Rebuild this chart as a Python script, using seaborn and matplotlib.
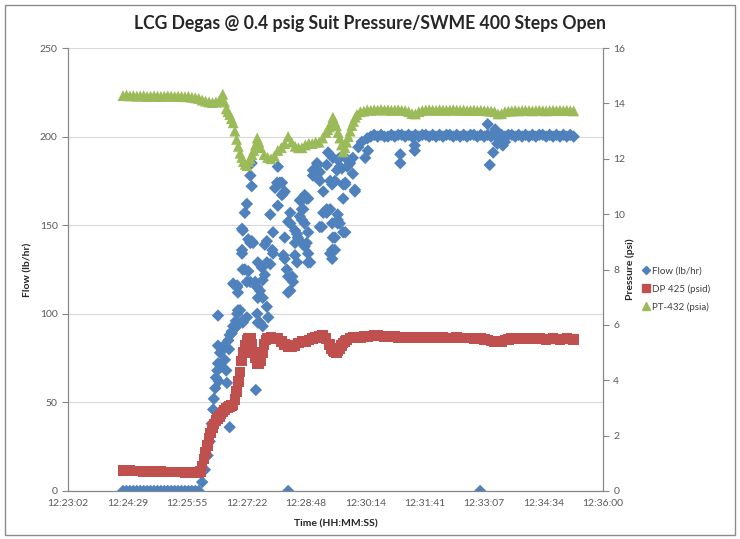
"""LCG degas run: flow and pressures vs time, Excel-style twin-axis scatter."""

import numpy as np
import pandas as pd
import matplotlib
matplotlib.use("Agg")
import matplotlib.pyplot as plt
from matplotlib.patches import Rectangle
from matplotlib.lines import Line2D
import seaborn as sns

# ---- data (time in seconds after 12:23:02) ----
time_labels = ["12:23:02", "12:24:29", "12:25:55", "12:27:22", "12:28:48",
               "12:30:14", "12:31:41", "12:33:07", "12:34:34", "12:36:00"]

# pressure channels sampled every 5 s from t=80 s
pressure_t = np.arange(80, 740, 5)

pt432 = [
    14.28, 14.30, 14.27, 14.28, 14.26, 14.27, 14.28, 14.25, 14.26, 14.27, 14.26, 14.25,
    14.26, 14.27, 14.26, 14.25, 14.26, 14.25, 14.24, 14.25, 14.22, 14.20, 14.18, 14.12,
    14.08, 14.05, 14.03, 14.05, 14.10, 14.33, 13.80, 13.60, 13.30, 12.70, 12.20, 11.90,
    11.75, 12.00, 12.30, 12.75, 12.40, 12.15, 12.05, 12.00, 12.10, 12.30, 12.40, 12.55,
    12.80, 12.60, 12.45, 12.40, 12.40, 12.50, 12.55, 12.55, 12.60, 12.60, 12.75, 12.95,
    13.15, 13.50, 13.20, 12.75, 12.25, 12.60, 13.00, 13.35, 13.60, 13.70, 13.72, 13.76,
    13.75, 13.77, 13.76, 13.78, 13.76, 13.77, 13.75, 13.76, 13.77, 13.75, 13.74, 13.70,
    13.63, 13.62, 13.70, 13.74, 13.76, 13.77, 13.76, 13.75, 13.77, 13.76, 13.75, 13.76,
    13.77, 13.76, 13.75, 13.76, 13.74, 13.75, 13.76, 13.74, 13.75, 13.74, 13.73, 13.72,
    13.70, 13.62, 13.63, 13.70, 13.72, 13.73, 13.74, 13.73, 13.74, 13.75, 13.74, 13.73,
    13.74, 13.75, 13.74, 13.73, 13.74, 13.75, 13.74, 13.75, 13.74, 13.75, 13.74, 13.73,
]
# extra readings where the pressure moves fast
pt432_fast_t = [222.5, 227.5, 232.5, 237.5, 242.5, 247.5, 252.5, 257.5, 262.5, 267.5,
                272.5, 277.5, 377.5, 382.5, 387.5, 392.5, 397.5, 402.5, 407.5, 412.5,
                417.5]
pt432_fast = [14.20, 14.05, 13.70, 13.45, 13.00, 12.45, 12.05, 11.80, 11.90, 12.15,
              12.50, 12.60, 13.05, 13.30, 13.35, 12.95, 12.50, 12.40, 12.80, 13.20,
              13.50]

dp425 = [
    0.74, 0.73, 0.73, 0.72, 0.72, 0.72, 0.71, 0.71, 0.71, 0.70, 0.70, 0.70,
    0.69, 0.69, 0.69, 0.68, 0.68, 0.68, 0.67, 0.67, 0.67, 0.66, 0.66, 0.90,
    1.40, 1.90, 2.30, 2.55, 2.70, 2.85, 3.00, 3.05, 3.10, 3.60, 4.30, 5.00,
    5.45, 5.50, 5.00, 4.60, 4.70, 5.30, 5.50, 5.55, 5.50, 5.50, 5.40, 5.30,
    5.20, 5.20, 5.25, 5.35, 5.40, 5.40, 5.45, 5.50, 5.55, 5.60, 5.62, 5.50,
    5.30, 5.05, 5.00, 5.15, 5.35, 5.45, 5.52, 5.55, 5.56, 5.55, 5.57, 5.58,
    5.60, 5.62, 5.61, 5.60, 5.58, 5.57, 5.56, 5.57, 5.55, 5.56, 5.55, 5.54,
    5.55, 5.56, 5.55, 5.54, 5.55, 5.54, 5.53, 5.54, 5.55, 5.54, 5.53, 5.52,
    5.53, 5.54, 5.53, 5.52, 5.53, 5.52, 5.51, 5.52, 5.50, 5.48, 5.45, 5.42,
    5.40, 5.38, 5.40, 5.45, 5.48, 5.50, 5.51, 5.50, 5.49, 5.50, 5.51, 5.50,
    5.49, 5.50, 5.49, 5.48, 5.49, 5.50, 5.49, 5.48, 5.49, 5.50, 5.49, 5.48,
]
dp425_fast_t = [192.5, 197.5, 202.5, 207.5, 212.5, 217.5, 222.5, 227.5, 232.5, 237.5,
                242.5, 247.5, 252.5, 257.5, 262.5, 267.5, 272.5, 277.5, 282.5, 287.5,
                382.5, 387.5, 392.5, 397.5, 402.5]
dp425_fast = [0.70, 1.15, 1.65, 2.10, 2.42, 2.62, 2.78, 2.92, 3.02, 3.08,
              3.30, 3.95, 4.70, 5.25, 5.50, 5.30, 4.80, 4.60, 5.00, 5.45,
              5.15, 5.02, 5.05, 5.25, 5.40]

# flow: zero run, rise, scatter, plateau and outliers
flow_t = [
    80, 85, 90, 95, 100, 105, 110, 115, 120, 125, 130, 135, 140, 145, 150, 155, 160,
    165, 170, 175, 180, 185, 190,
    195, 199, 203, 206, 209, 211, 212, 214, 215, 217, 218, 219, 221, 222, 224, 227,
    228, 230, 231, 233, 234, 235, 235, 238, 240, 243, 244, 246, 247, 250, 254, 273,
    218, 254, 257, 260, 253, 265, 269, 257, 262, 246, 247, 260, 272, 276, 282, 286,
    283, 294, 298, 289, 297, 294, 279, 276, 247, 260, 275, 289, 279, 283, 238, 218,
    224, 305, 323, 323, 315, 330, 334, 340, 330, 318, 326, 320, 313, 330, 344, 349,
    340, 340, 340, 267, 265, 267, 253, 305, 308, 304, 313, 320, 337, 347, 342, 337,
    344, 349, 333, 362, 356, 371, 381, 376, 369, 392, 392, 403, 388, 384, 384, 403,
    414, 417, 406, 432, 391, 376, 363, 395, 410, 436, 378, 385, 359, 366, 362, 366,
    384, 388, 400, 417, 400, 392, 398, 406, 414, 422, 427, 435, 344, 349, 376, 371,
    381, 366, 384, 395, 400, 385, 385, 349, 254, 311, 301, 311, 315, 347, 286, 298,
    289, 315, 333, 352, 356, 362, 395, 403, 392, 388, 381, 254, 276, 291, 283, 275,
    265, 246, 240, 253, 262, 267, 320, 327, 323,
    440, 445, 450, 455, 460, 465, 470, 475, 480, 485, 490, 495, 500, 505, 510, 515,
    520, 525, 530, 535, 540, 545, 550, 555, 560, 565, 570, 575, 580, 585, 590, 595,
    600, 605, 610, 615, 620, 625, 630, 635, 640, 645, 650, 655, 660, 665, 670, 675,
    680, 685, 690, 695, 700, 705, 710, 715, 720, 725, 730, 735,
    483, 483, 504, 504, 610, 621, 613, 618, 624, 628, 632, 635, 320, 599,
]
flow_v = [
    0, 0, 0, 0, 0, 0, 0, 0, 0, 0, 0, 0, 0, 0, 0, 0, 0,
    0, 0, 0, 0, 0, 0,
    5, 12, 20, 28, 38, 46, 52, 58, 64, 68, 72, 62, 78, 70, 80, 82,
    74, 68, 61, 85, 80, 88, 36, 90, 93, 92, 96, 100, 94, 102, 95, 57,
    99, 147, 157, 162, 134, 140, 140, 125, 124, 116, 112, 118, 118, 129, 126, 122,
    119, 156, 146, 141, 136, 128, 113, 109, 102, 98, 100, 104, 95, 93, 89, 82,
    81, 161, 157, 151, 143, 147, 143, 140, 140, 125, 121, 112, 133, 133, 138, 129,
    159, 153, 164, 185, 178, 172, 148, 183, 174, 174, 168, 152, 164, 165, 159, 155,
    151, 146, 145, 181, 178, 169, 175, 157, 149, 156, 151, 146, 143, 136, 131, 173,
    179, 169, 187, 188, 181, 184, 184, 188, 185, 192, 191, 188, 182, 180, 177, 175,
    173, 175, 173, 170, 165, 187, 182, 183, 188, 194, 197, 199, 167, 165, 159, 157,
    159, 149, 151, 151, 146, 143, 136, 134, 125, 167, 171, 174, 169, 140, 139, 134,
    129, 131, 129, 129, 181, 185, 183, 174, 153, 136, 134, 96, 95, 98, 109, 115,
    118, 115, 117, 136, 142, 141, 121, 118, 113,
    200, 201, 200, 201, 200, 200, 201, 200, 201, 201, 200, 201, 200, 201, 200, 201,
    201, 200, 201, 200, 201, 200, 201, 201, 200, 201, 200, 201, 200, 201, 201, 200,
    201, 200, 201, 200, 201, 200, 201, 200, 201, 201, 200, 201, 200, 201, 200, 201,
    200, 201, 201, 200, 201, 200, 201, 200, 201, 200, 201, 200,
    190, 185, 195, 192, 207, 204, 184, 191, 196, 198, 195, 197, 0, 0,
]

BLUE = "#4F81BD"
RED = "#C0504D"
GREEN = "#9BBB59"
GRID = "#D9D9D9"
AXIS = "#868686"
TICK = "#595959"

sns.set_style("white")
plt.rcParams["font.family"] = ["Lato", "DejaVu Sans"]

flow_df = pd.DataFrame({"t": flow_t, "flow": flow_v})
dp_df = pd.DataFrame({"t": list(pressure_t) + dp425_fast_t, "p": dp425 + dp425_fast})
pt_df = pd.DataFrame({"t": list(pressure_t) + pt432_fast_t, "p": pt432 + pt432_fast})

fig = plt.figure(figsize=(7.4, 5.39), dpi=100)
ax = fig.add_axes([68 / 740, 1 - 491 / 539, 535 / 740, 443 / 539])
ax2 = ax.twinx()

sns.scatterplot(data=flow_df, x="t", y="flow", marker="D", s=40, color=BLUE,
                edgecolor="none", linewidth=0, ax=ax, zorder=3)
sns.scatterplot(data=dp_df, x="t", y="p", marker="s", s=58, color=RED,
                edgecolor="none", linewidth=0, ax=ax2, zorder=3)
sns.scatterplot(data=pt_df, x="t", y="p", marker="^", s=62, color=GREEN,
                edgecolor="none", linewidth=0, ax=ax2, zorder=4)

step = 86.4
ax.set_xlim(0, step * 9)
ax.set_xticks([step * i for i in range(10)])
ax.set_xticklabels(time_labels)
ax.set_ylim(0, 250)
ax.set_yticks(range(0, 251, 50))
ax2.set_ylim(0, 16)
ax2.set_yticks(range(0, 17, 2))

ax.yaxis.grid(True, color=GRID, linewidth=0.8)
ax.set_axisbelow(True)
for a in (ax, ax2):
    a.spines["top"].set_visible(False)
    for side in ("left", "right", "bottom"):
        a.spines[side].set_color(AXIS)
        a.spines[side].set_linewidth(0.8)
ax.tick_params(axis="x", length=0, pad=6, labelsize=7.5, labelcolor=TICK)
ax.tick_params(axis="y", length=4, color=AXIS, width=0.8, labelsize=7.5,
               labelcolor=TICK, left=True)
ax2.tick_params(axis="y", length=4, color=AXIS, width=0.8, labelsize=7.5,
                labelcolor=TICK, right=True)

ax.set_xlabel("Time (HH:MM:SS)", fontsize=7.5, fontweight="bold", labelpad=8)
ax.set_ylabel("Flow (lb/hr)", fontsize=7.5, fontweight="bold", labelpad=5)
ax2.set_ylabel("Pressure (psi)", fontsize=7.5, fontweight="bold", labelpad=0)

fig.text(0.5, 1 - 24 / 539, "LCG Degas @ 0.4 psig Suit Pressure/SWME 400 Steps Open",
         ha="center", va="center", fontsize=12.7, fontweight="bold", color="#262626")

handles = [
    Line2D([], [], marker="D", color=BLUE, linestyle="none", markersize=4.5),
    Line2D([], [], marker="s", color=RED, linestyle="none", markersize=5.5),
    Line2D([], [], marker="^", color=GREEN, linestyle="none", markersize=5.5),
]
fig.legend(handles, ["Flow (lb/hr)", "DP 425 (psid)", "PT-432 (psia)"],
           loc="center left", bbox_to_anchor=(633 / 740, 1 - 289 / 539),
           frameon=False, fontsize=7, handletextpad=0.3, labelspacing=0.9,
           handlelength=0.8, labelcolor="#404040")

fig.patches.append(Rectangle((5 / 740, 4 / 539), 730 / 740, 530 / 539,
                             transform=fig.transFigure, fill=False,
                             edgecolor="#8C8C8C", linewidth=1))

fig.savefig("out.png", dpi=100)
